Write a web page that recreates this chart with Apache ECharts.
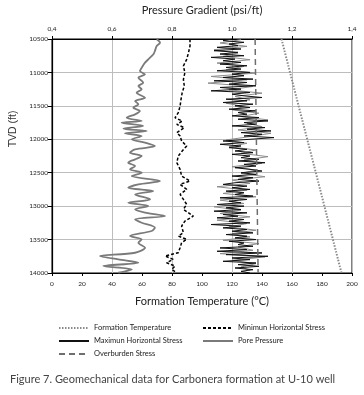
<!DOCTYPE html>
<html>
<head>
<meta charset="utf-8">
<script src="https://cdn.jsdelivr.net/npm/echarts@6/dist/echarts.min.js"></script>
<style>
html, body { margin: 0; padding: 0; background: #fff; }
#chart { width: 364px; height: 395px; }
</style>
</head>
<body>
<div id="chart"></div>
<script>
// depth axis (TVD, ft) and tick labels
var depthTicks = [10500, 11000, 11500, 12000, 12500, 13000, 13500, 14000];
var tempTicks = [0, 20, 40, 60, 80, 100, 120, 140, 160, 180, 200];
var gradTicks = ['0,4', '0,6', '0,8', '1,0', '1,2', '1,4'];

// Pore pressure (psi/ft) - grey wavy curve
var poreDepth = [10505, 10555, 10605, 10679, 10729, 10804, 10854, 10929, 10979, 11029,
  11078, 11153, 11203, 11253, 11303, 11378, 11427, 11477, 11527, 11577,
  11627, 11677, 11727, 11752, 11801, 11841, 11876, 11911, 11951, 12001,
  12051, 12101, 12151, 12200, 12250, 12300, 12350, 12400, 12450, 12500,
  12550, 12624, 12674, 12724, 12774, 12824, 12899, 12949, 12998, 13048,
  13098, 13148, 13198, 13248, 13323, 13372, 13447, 13497, 13547, 13622,
  13697, 13746, 13796, 13846, 13896, 13946, 13996];
var porePressure = [0.749, 0.760, 0.749, 0.743, 0.738, 0.721, 0.710, 0.699, 0.693, 0.710,
  0.688, 0.704, 0.688, 0.699, 0.682, 0.710, 0.677, 0.688, 0.671, 0.693,
  0.677, 0.649, 0.699, 0.632, 0.704, 0.638, 0.716, 0.643, 0.699, 0.666,
  0.710, 0.743, 0.677, 0.660, 0.699, 0.677, 0.654, 0.677, 0.660, 0.699,
  0.666, 0.760, 0.688, 0.654, 0.738, 0.677, 0.727, 0.654, 0.721, 0.677,
  0.710, 0.777, 0.677, 0.699, 0.743, 0.732, 0.660, 0.699, 0.688, 0.710,
  0.677, 0.560, 0.621, 0.688, 0.571, 0.666, 0.621];

// Minimum horizontal stress (psi/ft)
var minDepth = [10505, 10605, 10704, 10804, 10904, 11004, 11103, 11203, 11303, 11403,
  11502, 11602, 11677, 11727, 11777, 11826, 11901, 11951, 12026, 12101,
  12176, 12250, 12350, 12450, 12550, 12624, 12674, 12749, 12824, 12899,
  12973, 13048, 13148, 13223, 13298, 13397, 13447, 13497, 13547, 13622,
  13697, 13746, 13796, 13846, 13896, 13946, 13996];
var minStress = [0.860, 0.860, 0.855, 0.849, 0.838, 0.843, 0.838, 0.841, 0.834, 0.830,
  0.827, 0.821, 0.810, 0.834, 0.816, 0.841, 0.816, 0.827, 0.832, 0.849,
  0.834, 0.821, 0.816, 0.827, 0.832, 0.860, 0.827, 0.849, 0.827, 0.838,
  0.849, 0.838, 0.871, 0.843, 0.832, 0.838, 0.821, 0.849, 0.832, 0.827,
  0.821, 0.777, 0.804, 0.782, 0.810, 0.799, 0.816];

// Maximum horizontal stress (psi/ft), sampled every 25 ft from 10500 ft
var maxDepth = Array.from({ length: 141 }, function(_, i) { return 10500 + 25 * i; });
var maxStress = [1.00, 0.97, 1.04, 0.99, 1.02,
  0.95, 1.03, 0.94, 1.02, 0.96, 1.04, 0.93, 1.01, 0.97, 1.03,
  0.96, 1.05, 0.98, 1.03, 0.95, 1.06, 1.00, 1.04, 0.97, 1.07,
  0.94, 1.05, 0.99, 1.08, 0.96, 1.03, 0.93, 1.06, 1.00, 1.04,
  1.10, 0.98, 1.05, 0.97, 1.07, 1.01, 1.06, 0.99, 1.08, 1.02, 1.05, 1.00,
  1.09, 1.02, 1.12, 1.04, 1.08, 1.00, 1.11, 1.05, 1.13, 1.03, 1.10, 1.04, 1.14, 1.06,
  0.97, 1.04, 0.96, 1.03, 0.99, 1.05,
  1.01, 1.07, 1.00, 1.06, 1.03, 1.09, 1.02, 1.11, 1.04, 1.08, 1.01, 1.06,
  1.10, 1.03, 1.08, 1.00, 1.07, 1.02, 1.09, 1.01,
  0.97, 1.05, 1.00, 1.06, 0.98, 1.04, 1.01, 1.07, 0.96, 1.05, 0.99, 1.03, 0.95, 1.04,
  0.98, 1.03, 0.94, 1.05, 0.97, 1.02, 0.95, 1.04, 0.99, 1.06, 0.93, 1.03, 0.97, 1.05,
  1.00, 1.07, 0.98, 1.05, 1.01, 1.08, 0.99, 1.04, 1.02, 1.07, 0.96, 1.05,
  0.95, 1.10, 0.98, 1.12, 1.00, 1.06, 0.97, 1.08,
  1.02, 1.09, 1.01, 1.07, 1.03, 1.06];

// grey trace mixed into the stress cloud, every 50 ft from 10510 ft
var maxGreyDepth = Array.from({ length: 70 }, function(_, i) { return 10510 + 50 * i; });
var maxGreyStress = [1.03, 0.96, 1.05, 0.94, 1.02, 0.97, 1.06, 0.95, 1.04, 0.98,
  1.08, 0.93, 1.05, 0.92, 1.07, 0.99, 1.10, 1.01, 1.06, 0.98,
  1.04, 1.00, 1.09, 1.03, 1.12, 1.05, 1.10, 1.02, 1.13, 1.06,
  0.98, 1.05, 0.99, 1.08, 1.03, 1.12, 1.04, 1.10, 1.00, 1.08,
  1.03, 1.11, 1.00, 1.06, 0.95, 1.05, 0.97, 1.08, 0.96, 1.04,
  0.94, 1.03, 0.96, 1.06, 0.95, 1.05, 0.99, 1.08, 1.00, 1.06,
  0.97, 1.09, 1.02, 1.07, 0.96, 1.11, 1.00, 1.08, 1.03, 1.06];

// Overburden stress (psi/ft)
var obDepth = [10500, 14000];
var obStress = [1.077, 1.087];

// Formation temperature (°C)
var tempDepth = [10500, 11500, 12500, 13500, 14000];
var formationTemp = [153, 164.4, 175.9, 187.3, 193];

function pairs(xs, ys) {
	return ys.map(function(y, i) { return [xs[i], y]; });
}

var chart = echarts.init(document.getElementById('chart'));
var font = 'Lato';
var legendBase = {
	orient: 'vertical', top: 319, itemWidth: 30, itemHeight: 10, itemGap: 5,
	itemStyle: { opacity: 0 },
	textStyle: { fontSize: 7.5, color: '#222', fontFamily: font }
};
var option = {
	animation: false,
	textStyle: { fontFamily: font },
	grid: { left: 52, right: 12, top: 39, height: 234, show: true, borderColor: '#000', borderWidth: 1 },
	legend: [
		Object.assign({ left: 53, data: ['Formation Temperature', 'Maximun Horizontal Stress', 'Overburden Stress'] }, legendBase),
		Object.assign({ left: 197, data: ['Minimun Horizontal Stress', 'Pore Pressure'] }, legendBase)
	],
	xAxis: [{
		type: 'value', position: 'bottom', min: tempTicks[0], max: tempTicks[tempTicks.length - 1], interval: 20,
		name: 'Formation Temperature (°C)', nameLocation: 'middle', nameGap: 23,
		nameTextStyle: { fontSize: 11, color: '#222', fontFamily: font },
		axisLine: { lineStyle: { color: '#000', width: 1.2 } },
		axisTick: { show: true, length: 3, lineStyle: { color: '#000' } },
		axisLabel: { fontSize: 6.5, color: '#222', margin: 7 },
		splitLine: { show: false }
	}, {
		type: 'value', position: 'top', min: 0.4, max: 1.4, interval: 0.2,
		name: 'Pressure Gradient (psi/ft)', nameLocation: 'middle', nameGap: 23,
		nameTextStyle: { fontSize: 11, color: '#222', fontFamily: font },
		axisLine: { lineStyle: { color: '#000', width: 1.2 } },
		axisTick: { show: true, length: 3, lineStyle: { color: '#000' } },
		axisLabel: {
			fontSize: 6.5, color: '#222', margin: 7,
			formatter: function(v) { return gradTicks[Math.round((v - 0.4) / 0.2)]; }
		},
		splitLine: { show: true, lineStyle: { color: '#bdbdbd', width: 1 } }
	}],
	yAxis: {
		type: 'value', inverse: true, min: depthTicks[0], max: depthTicks[depthTicks.length - 1], interval: 500,
		axisLine: { show: true, lineStyle: { color: '#000', width: 1.2 } },
		axisTick: { show: true, length: 4, lineStyle: { color: '#000' } },
		axisLabel: { fontSize: 6.5, color: '#222', margin: 4, formatter: function(v) { return String(v); } },
		splitLine: { show: true, lineStyle: { color: '#bdbdbd', width: 1 } }
	},
	graphic: [{
		type: 'text', x: 13, y: 129, rotation: Math.PI / 2,
		style: { text: 'TVD (ft)', fontSize: 10.5, fontFamily: 'Liberation Sans', fill: '#333',
			textAlign: 'center', textVerticalAlign: 'middle' }
	}, {
		type: 'text', left: 10, top: 374,
		style: { text: 'Figure 7. Geomechanical data for Carbonera formation at U-10 well',
			fontSize: 11, fontFamily: font, fill: '#444' }
	}],
	series: [{
		name: 'Formation Temperature', type: 'line', xAxisIndex: 0, symbol: 'none',
		data: pairs(formationTemp, tempDepth),
		itemStyle: { color: '#8a8a8a' },
		lineStyle: { color: '#8a8a8a', width: 2, type: [1.5, 1.5] }
	}, {
		name: 'Pore Pressure', type: 'line', xAxisIndex: 1, symbol: 'none', smooth: 0.3,
		data: pairs(porePressure, poreDepth),
		itemStyle: { color: '#7a7a7a' },
		lineStyle: { color: '#7a7a7a', width: 1.8 }
	}, {
		name: 'Minimun Horizontal Stress', type: 'line', xAxisIndex: 1, symbol: 'none',
		data: pairs(minStress, minDepth),
		itemStyle: { color: '#000' },
		lineStyle: { color: '#000', width: 1.5, type: [3, 2] }
	}, {
		name: 'Maximun Horizontal Stress grey', type: 'line', xAxisIndex: 1, symbol: 'none',
		data: pairs(maxGreyStress, maxGreyDepth),
		itemStyle: { color: '#8c8c8c' },
		lineStyle: { color: '#8c8c8c', width: 1 }
	}, {
		name: 'Maximun Horizontal Stress', type: 'line', xAxisIndex: 1, symbol: 'none',
		data: pairs(maxStress, maxDepth),
		itemStyle: { color: '#111' },
		lineStyle: { color: '#111', width: 1 }
	}, {
		name: 'Overburden Stress', type: 'line', xAxisIndex: 1, symbol: 'none',
		data: pairs(obStress, obDepth),
		itemStyle: { color: '#6e6e6e' },
		lineStyle: { color: '#6e6e6e', width: 1.5, type: [6, 4] }
	}]
};
chart.setOption(option);
</script>
</body>
</html>
